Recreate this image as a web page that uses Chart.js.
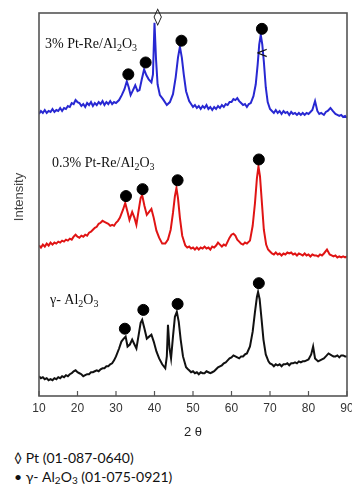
<!DOCTYPE html>
<html>
<head>
<meta charset="utf-8">
<script src="https://cdn.jsdelivr.net/npm/chart.js@4.4.0/dist/chart.umd.min.js"></script>
<style>
	html, body { margin:0; padding:0; background:#fff; overflow:hidden; }
	#wrap { position:relative; width:352px; height:488px; overflow:hidden; }
	#xrd { position:absolute; left:0; top:0; }
	.leg { position:absolute; left:14px; font-family:"Lato", "Open Sans", sans-serif; font-size:14px; color:#111; white-space:nowrap; }
	.leg sub { font-size:10px; vertical-align:-2px; }
</style>
</head>
<body>
<div id="wrap">
	<canvas id="xrd" width="360" height="442"></canvas>
	<div class="leg" style="top:449px;">&#9674; Pt (01-087-0640)</div>
	<div class="leg" style="top:468px;">&#8226; &gamma;- Al<sub>2</sub>O<sub>3</sub> (01-075-0921)</div>
</div>
<script>
// 2 theta ticks
var xTicks = [10, 20, 30, 40, 50, 60, 70, 80, 90];

// 3% Pt-Re/Al2O3 (blue, stacked on top)
var blueTheta = [10,10.5,11,11.5,12,12.5,13,13.5,14,14.5,15,15.5,16,16.5,17,17.5,18,18.5,19,19.5,20,20.5,21,21.5,22,22.5,23,23.5,24,24.5,25,25.5,26,26.5,27,27.5,28,28.5,29,29.5,30,30.8,31.5,32.2,32.8,33.3,33.8,34.3,35.0,35.6,36.1,36.7,37.3,37.9,38.5,39.2,39.6,40.0,40.4,40.8,41.4,42.2,43.2,44.0,44.8,45.5,46.1,46.6,47.1,47.6,48.2,49,49.5,50,50.5,51,51.5,52,52.5,53,53.5,54,54.5,55,55.5,56,56.5,57,57.5,58,58.5,59,59.5,60,60.5,61,61.5,62,62.5,63,63.5,64,64.5,65,65.7,66.3,66.8,67.2,67.6,68.0,68.4,68.9,69.4,70,70.5,71,71.5,72,72.5,73,73.5,74,74.5,75,75.5,76,76.5,77,77.5,78,78.5,79,79.5,80,80.5,81,81.7,82.3,82.8,83.3,84,84.5,85,85.7,86.3,87,87.5,88,88.5,89,89.5,90];
var blueI = [285,288,286,289,286,288,287,290,287,289,288,291,288,291,290,293,292,296,295,299,297,296,293,295,292,296,294,297,293,296,294,297,295,298,294,297,295,298,295,297,296,299,304,310,318,312,304,308,314,308,309,320,330,324,320,317,325,377,340,315,304,300,294,297,305,322,342,353,342,325,308,298,295,292,294,291,293,290,293,291,294,290,292,289,292,290,293,291,294,292,295,294,297,297,300,299,301,298,296,294,295,292,295,296,303,315,335,355,365,355,338,312,297,290,288,286,289,286,288,285,288,286,287,284,287,285,286,284,286,284,286,284,286,285,287,289,298,288,285,286,284,287,288,291,288,285,284,283,284,282,283,281];

// 0.3% Pt-Re/Al2O3 (red, middle)
var redTheta = [10,10.5,11,11.5,12,12.5,13,13.5,14,14.5,15,15.5,16,16.5,17,17.5,18,18.5,19,19.5,20,20.5,21,21.5,22,22.5,23,23.5,24,24.5,25,25.5,26,26.5,27,27.5,28,28.5,29,29.5,30,30.5,31,31.8,32.4,33,33.5,34.2,34.8,35.3,35.9,36.4,36.8,37.4,38,38.6,39.2,39.8,40.5,41.2,42,42.8,43.5,44.2,44.8,45.3,45.7,46.1,46.6,47.2,48,48.5,49,49.5,50,50.5,51,51.5,52,52.5,53,53.5,54,54.5,55,55.5,56,56.5,57,57.5,58,58.5,59,59.5,60,60.5,61,61.5,62,62.5,63,63.5,64,64.8,65.5,66.1,66.6,67.0,67.4,67.9,68.4,69,69.5,70,70.5,71,71.5,72,72.5,73,73.5,74,74.5,75,75.5,76,76.5,77,77.5,78,78.5,79,79.5,80,80.5,81,81.5,82,82.5,83,83.5,84,84.8,85.5,86,86.5,87,87.5,88,88.5,89,89.5,90];
var redI = [152,150,153,151,154,152,155,153,155,154,156,155,157,156,158,157,159,158,161,163,161,160,162,161,163,162,165,166,168,170,171,174,175,177,176,175,174,172,173,172,175,177,180,188,195,186,178,186,180,173,188,200,203,192,183,186,189,180,167,160,154,154,158,168,185,202,210,200,180,162,152,150,151,149,150,148,150,148,150,149,151,149,150,148,151,150,152,155,153,151,153,152,156,160,163,164,162,158,156,154,153,155,154,157,172,195,220,232,222,195,168,153,148,146,144,143,145,143,144,142,144,143,145,144,145,143,144,142,144,143,142,144,142,143,141,143,142,142,141,143,142,144,148,143,142,141,142,140,141,140,141,140,141];

// gamma-Al2O3 (black, bottom)
var blackTheta = [10,10.5,11,11.5,12,12.5,13,13.5,14,14.5,15,15.5,16,16.5,17,17.5,18,18.5,19,19.5,20,20.5,21,21.5,22,22.5,23,23.5,24,24.5,25,25.5,26,26.5,27,27.5,28,28.5,29,29.5,30,30.8,31.4,32.0,32.5,33.0,33.6,34.2,34.8,35.3,35.9,36.4,36.8,37.4,38,38.6,39.2,39.8,40.5,41.2,42,42.8,43.2,43.5,43.9,44.3,44.8,45.3,45.8,46.3,46.8,47.4,48.2,48.7,49,49.5,50,50.5,51,51.5,52,52.5,53,53.5,54,54.5,55,55.5,56,56.5,57,57.5,58,58.5,59,59.5,60,60.5,61,61.5,62,62.5,63,63.5,64,64.8,65.5,66.1,66.6,66.9,67.3,67.8,68.3,68.9,69.6,70,70.5,71,71.5,72,72.5,73,73.5,74,74.5,75,75.5,76,76.5,77,77.5,78,78.5,79,79.5,80,80.7,81.2,81.7,82.5,83,83.5,84,84.5,85.2,86,86.5,87,87.5,88,88.5,89,89.5,90];
var blackI = [20,18,19,17,18,16,17,16,18,17,19,18,20,19,21,20,22,23,25,26,24,23,22,20,21,22,22,24,24,25,26,25,27,28,28,30,30,32,33,36,40,48,55,58,60,50,52,57,52,48,62,74,77,68,58,60,62,55,45,38,32,28,40,72,48,38,60,80,85,75,57,40,29,27,26,24,25,23,24,22,24,23,23,25,24,23,24,25,27,29,30,31,33,34,36,38,39,41,40,39,38,40,40,42,43,50,65,85,100,105,98,78,57,42,35,33,32,30,32,31,32,30,32,32,33,31,33,33,34,33,35,34,35,35,36,37,42,50,38,35,36,37,38,40,43,41,40,40,41,39,41,41,40,40];

// peak markers (filled circles = gamma-Al2O3)
var blueDotTheta = [33.2, 37.7, 47.0, 67.9];
var blueDotI = [325, 337, 359, 371];
var redDotTheta = [32.6, 36.9, 46.0, 67.1];
var redDotI = [202, 209, 218, 239];
var blackDotTheta = [32.3, 37.1, 46.0, 67.1];
var blackDotI = [68, 87, 93, 114];

// Pt diamond and the "<" mark on the 3% pattern
var ptTheta = 40.8, ptI = 382;
var ltTheta = 67.9, ltI = 345;

// sample names
var sampleNames = [
	{ x: 45, y: 44, parts: [["3% Pt-Re/Al"], ["2", 1], ["O"], ["3", 1]] },
	{ x: 52, y: 163, parts: [["0.3% Pt-Re/Al"], ["2", 1], ["O"], ["3", 1]] },
	{ x: 50, y: 300, parts: [["\u03b3- Al"], ["2", 1], ["O"], ["3", 1]] }
];

function toPts(xs, ys) {
	var out = [];
	for (var i = 0; i < xs.length; i++) out.push({ x: xs[i], y: ys[i] });
	return out;
}

function curve(xs, ys, color) {
	return {
		data: toPts(xs, ys),
		showLine: true,
		borderColor: color,
		borderWidth: 2,
		pointRadius: 0,
		tension: 0,
		order: 2
	};
}

function dots(xs, ys) {
	return {
		data: toPts(xs, ys),
		showLine: false,
		pointRadius: 5.5,
		pointBackgroundColor: '#000',
		pointBorderColor: '#000',
		order: 0
	};
}

var decor = {
	id: 'decor',
	afterDraw: function (chart) {
		var ctx = chart.ctx, a = chart.chartArea;
		var sx = chart.scales.x, sy = chart.scales.y;
		ctx.save();
		// frame
		ctx.strokeStyle = '#555';
		ctx.lineWidth = 1.6;
		ctx.strokeRect(a.left, a.top, a.right - a.left, a.bottom - a.top);
		// inward ticks
		ctx.lineWidth = 1.2;
		xTicks.forEach(function (t) {
			var px = sx.getPixelForValue(t);
			ctx.beginPath();
			ctx.moveTo(px, a.bottom);
			ctx.lineTo(px, a.bottom - 5);
			ctx.stroke();
		});
		// Intensity
		ctx.fillStyle = '#444';
		ctx.font = '13px "Liberation Sans", Arial, sans-serif';
		ctx.textAlign = 'center';
		ctx.textBaseline = 'middle';
		ctx.translate(19, 197);
		ctx.rotate(-Math.PI / 2);
		ctx.fillText('Intensity', 0, 0);
		ctx.restore();

		ctx.save();
		ctx.fillStyle = '#111';
		ctx.textBaseline = 'middle';
		ctx.textAlign = 'left';
		sampleNames.forEach(function (n) {
			var x = n.x;
			n.parts.forEach(function (p) {
				ctx.font = p[1] ? '10px "Liberation Serif", serif' : '14px "Liberation Serif", serif';
				ctx.fillText(p[0], x, n.y + (p[1] ? 4 : 0));
				x += ctx.measureText(p[0]).width;
			});
		});
		// Pt diamond
		ctx.textAlign = 'center';
		ctx.font = '17px "DejaVu Sans", sans-serif';
		ctx.fillText('\u25ca', sx.getPixelForValue(ptTheta), sy.getPixelForValue(ptI));
		ctx.font = '15px "DejaVu Sans", sans-serif';
		ctx.fillText('<', sx.getPixelForValue(ltTheta), sy.getPixelForValue(ltI));
		ctx.restore();
	}
};

var xrdChart = new Chart(document.getElementById('xrd'), {
	type: 'scatter',
	data: {
		datasets: [
			dots(blueDotTheta, blueDotI),
			dots(redDotTheta, redDotI),
			dots(blackDotTheta, blackDotI),
			curve(blueTheta, blueI, '#2828d2'),
			curve(redTheta, redI, '#e01414'),
			curve(blackTheta, blackI, '#111')
		]
	},
	options: {
		responsive: false,
		animation: false,
		events: [],
		layout: { padding: { left: 39, top: 13, right: 13, bottom: 0 } },
		plugins: { legend: { display: false }, tooltip: { enabled: false } },
		scales: {
			x: {
				type: 'linear',
				min: 10,
				max: 90,
				border: { display: false },
				grid: { display: false, drawTicks: false },
				ticks: {
					stepSize: 10,
					padding: 5,
					color: '#333',
					font: { family: '"Liberation Sans", Arial, sans-serif', size: 12 }
				},
				title: {
					display: true,
					text: '2 \u03b8',
					color: '#222',
					padding: { top: 4, bottom: 2 },
					font: { family: '"Liberation Sans", Arial, sans-serif', size: 13 }
				}
			},
			y: {
				display: false,
				min: 0,
				max: 387
			}
		}
	},
	plugins: [decor]
});
</script>
</body>
</html>
